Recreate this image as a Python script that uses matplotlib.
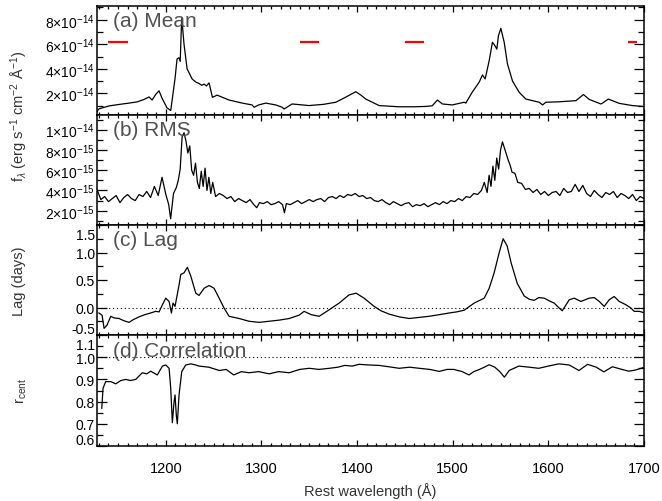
import matplotlib
matplotlib.use("Agg")
import math
import matplotlib.pyplot as plt
import matplotlib.transforms as mtransforms
from matplotlib.ticker import MultipleLocator, FixedLocator, FuncFormatter

plt.rcParams['font.family'] = ['Liberation Sans', 'DejaVu Sans']
plt.rcParams['mathtext.fontset'] = 'custom'
plt.rcParams['mathtext.rm'] = 'Liberation Sans'
plt.rcParams['mathtext.it'] = 'Liberation Sans:italic'
plt.rcParams['mathtext.bf'] = 'Liberation Sans:bold'

# ---------------- data ----------------
mean_wave = [1128, 1130, 1140.6, 1150, 1161.5, 1170, 1177.2, 1182.4, 1185.6, 1189.8, 1192.9, 1196,
             1201.3, 1205.1, 1209.6, 1211.7, 1213.8, 1215, 1216.6, 1219, 1222.2, 1227.4, 1231.6,
             1234.7, 1237.5, 1240, 1242.5, 1245.2, 1248.7, 1253.6, 1266.1, 1280, 1290.2, 1292.3,
             1297, 1304.5, 1315, 1321.6, 1323.7, 1332, 1349.8, 1365, 1377.7, 1384.3, 1392, 1398.6,
             1404, 1409.1, 1423, 1444, 1460, 1471.9, 1478.5, 1484, 1489.2, 1499.4, 1512, 1513.7,
             1520.3, 1527.6, 1531.1, 1533.9, 1538.1, 1541.5, 1544, 1546.1, 1547.8, 1550.3, 1553.8,
             1557.2, 1562.5, 1569.5, 1576.5, 1590.4, 1593.9, 1597.4, 1610, 1628.8, 1636.7, 1642.7,
             1654.9, 1656.6, 1662.6, 1674.1, 1687.7, 1700]
mean_flux = [0.5, 0.73, 0.97, 1.08, 1.2, 1.3, 1.5, 1.7, 1.45, 1.95, 2.2, 1.6,
             0.8, 0.6, 3.2, 4.8, 4.9, 4.6, 8.2, 6.0, 4.0, 3.17, 2.9,
             2.8, 2.65, 2.75, 2.6, 2.85, 1.67, 1.85, 1.45, 1.2, 1.05, 0.86,
             1.05, 1.2, 1.05, 0.86, 0.72, 1.13, 1.0, 1.1, 1.27, 1.53, 1.85, 2.13,
             1.85, 1.53, 1.0, 0.9, 0.9, 0.93, 0.98, 1.45, 1.13, 1.05, 1.27, 1.2,
             2.08, 2.9, 3.5, 3.17, 4.66, 6.16, 5.9, 5.6, 6.7, 7.3, 6.16,
             4.4, 3.0, 2.08, 1.53, 1.27, 1.05, 1.27, 1.3, 1.4, 1.9, 1.5,
             1.13, 1.2, 1.53, 1.18, 1.0, 0.92]

window_lo = [1140, 1340, 1450, 1683]
window_hi = [1160, 1360, 1470, 1693]
window_level = 6.2

rms_wave = [1128, 1132, 1136, 1140, 1144, 1148, 1152, 1156, 1160, 1164, 1168, 1172, 1176, 1180,
            1184, 1188, 1192, 1196, 1200, 1203, 1205, 1208, 1211, 1213, 1215, 1217, 1219, 1221,
            1223, 1225, 1227, 1229, 1231, 1233, 1235, 1237, 1239, 1241, 1243, 1245, 1247, 1249,
            1252, 1256, 1260, 1264, 1268, 1272, 1276, 1280, 1284, 1288, 1292, 1295, 1298, 1302,
            1306, 1310, 1314, 1318, 1322, 1324, 1326, 1330, 1334, 1338, 1342, 1346, 1350, 1354,
            1358, 1362, 1366, 1370, 1374, 1378, 1382, 1386, 1390, 1394, 1398, 1402, 1406, 1410,
            1414, 1418, 1422, 1426, 1430, 1434, 1438, 1442, 1446, 1450, 1454, 1458, 1462, 1466,
            1470, 1474, 1478, 1482, 1486, 1490, 1494, 1498, 1502, 1506, 1510, 1514, 1518, 1522,
            1526, 1530, 1533, 1536, 1538, 1540, 1542, 1544, 1546, 1548, 1550, 1552, 1554, 1556,
            1558, 1560, 1562, 1565, 1568, 1572, 1576, 1580, 1584, 1588, 1592, 1596, 1600, 1604,
            1608, 1612, 1616, 1620, 1624, 1628, 1632, 1636, 1640, 1644, 1648, 1652, 1656, 1660,
            1664, 1668, 1672, 1676, 1680, 1684, 1688, 1692, 1696, 1700]
rms_flux = [4.1, 3.1, 3.4, 2.9, 3.2, 3.5, 2.8, 3.3, 3.6, 3.2, 3.0, 3.6, 3.4, 3.9,
            3.3, 4.4, 3.5, 5.3, 3.6, 2.6, 1.2, 3.7, 4.3, 5.0, 6.1, 9.3, 9.7, 8.9,
            7.7, 8.4, 6.0, 5.5, 6.7, 4.8, 4.2, 5.9, 4.4, 6.2, 4.0, 5.3, 3.7, 4.8,
            3.4, 3.7, 3.5, 3.2, 3.4, 2.9, 3.2, 3.0, 2.8, 3.1, 2.6, 2.3, 2.8, 2.7,
            2.9, 2.6, 2.7, 2.9, 2.6, 1.8, 2.7, 2.6, 2.8, 3.0, 2.7, 2.9, 3.1, 2.9,
            3.1, 3.2, 2.9, 3.3, 3.4, 3.2, 3.5, 3.3, 3.6, 3.5, 3.7, 3.4, 3.5, 3.2,
            3.3, 3.0, 2.9, 3.1, 2.8, 2.6, 2.9, 2.7, 2.5, 2.7, 2.8, 2.4, 2.6, 2.5,
            2.7, 2.4, 2.6, 2.8, 2.6, 2.9, 2.7, 3.0, 2.9, 3.2, 3.0, 3.4, 3.3, 3.7,
            3.6, 4.0, 4.8, 3.8, 5.5, 4.4, 6.4, 5.0, 7.2, 6.1, 8.0, 8.8, 8.2, 7.6,
            7.0, 6.5, 5.8, 5.7, 4.8, 4.7, 4.1, 4.2, 3.8, 4.1, 3.6, 3.9, 3.5, 3.8,
            3.9, 3.5, 4.2, 3.8, 3.9, 4.6, 3.9, 4.5, 3.7, 3.4, 4.0, 3.6, 3.3, 3.8,
            3.6, 3.9, 3.3, 3.7, 3.5, 3.2, 3.6, 3.0, 3.4, 3.2]

lag_wave = [1130, 1133.3, 1135.4, 1138.5, 1142.4, 1146, 1151.1, 1156, 1161.5, 1166, 1172, 1178,
            1184, 1189.4, 1192.9, 1196.4, 1199.9, 1203.4, 1205.8, 1207.5, 1209.6, 1213.8, 1215.6,
            1219, 1222.5, 1226.1, 1231.3, 1234.7, 1240, 1245.2, 1250.4, 1255.7, 1260.9, 1266.1,
            1276.6, 1287, 1297.5, 1308, 1318.4, 1329, 1339.3, 1344.6, 1352, 1360.3, 1370, 1381.2,
            1391.6, 1399, 1407.3, 1417.8, 1425, 1433.5, 1444, 1454.4, 1465, 1475.3, 1486, 1496.2,
            1504, 1511.9, 1522.4, 1532.9, 1538.1, 1543.3, 1548.6, 1552.7, 1556.9, 1561.1,
            1567.4, 1574.7, 1580, 1585.2, 1590, 1595.6, 1601, 1606.1, 1611.3, 1614.5, 1621.8,
            1627, 1634, 1642.7, 1648, 1653.2, 1658.4, 1663.6, 1668.8, 1674.1, 1681.1,
            1686.3, 1689.8, 1695, 1699.2]
lag_days = [-0.1, -0.14, -0.38, -0.32, -0.16, -0.19, -0.2, -0.24, -0.27, -0.22, -0.17, -0.13,
            -0.1, -0.07, -0.08, 0.05, 0.17, 0.11, -0.1, 0.08, 0.02, 0.41, 0.6,
            0.63, 0.73, 0.57, 0.26, 0.22, 0.35, 0.4, 0.35, 0.17, -0.01, -0.16,
            -0.2, -0.25, -0.27, -0.25, -0.23, -0.2, -0.14, -0.07, -0.13, -0.16, -0.05, 0.08,
            0.23, 0.26, 0.17, 0.02, -0.06, -0.12, -0.17, -0.2, -0.18, -0.16, -0.13, -0.1,
            -0.08, -0.05, 0.08, 0.17, 0.35, 0.63, 1.0, 1.25, 1.12, 0.81,
            0.44, 0.21, 0.15, 0.13, 0.18, 0.17, 0.12, 0.08, -0.01, -0.06, 0.14,
            0.17, 0.11, 0.17, 0.18, 0.11, 0.02, 0.14, 0.2, 0.11, 0.05,
            -0.01, -0.07, -0.07, -0.09]

corr_wave = [1133, 1134.3, 1137.1, 1142.4, 1147.6, 1153, 1158.1, 1163, 1168.5, 1175.4, 1180,
             1184.2, 1191.1, 1196.4, 1199.9, 1203.4, 1205.1, 1206.8, 1208.6, 1209.6, 1211, 1212,
             1213.8, 1216.6, 1220.8, 1226.1, 1231.3, 1234.7, 1245, 1256, 1263, 1271, 1279, 1287,
             1297, 1308, 1318, 1329, 1340, 1350, 1360, 1371, 1380, 1387, 1395, 1402, 1412, 1423,
             1433, 1444, 1455, 1465, 1476, 1486, 1494, 1501, 1510, 1517, 1522, 1528, 1533, 1538,
             1544, 1549, 1554, 1559, 1564, 1569, 1580, 1590, 1600, 1611, 1621.8, 1632, 1641,
             1650, 1658, 1667, 1676, 1684, 1691, 1699]
corr_r = [0.77, 0.86, 0.89, 0.89, 0.88, 0.895, 0.9, 0.895, 0.9, 0.93, 0.925,
          0.937, 0.92, 0.96, 0.965, 0.95, 0.86, 0.705, 0.8, 0.83, 0.735, 0.70,
          0.83, 0.935, 0.965, 0.97, 0.965, 0.96, 0.955, 0.94, 0.945, 0.92, 0.935, 0.93,
          0.935, 0.925, 0.935, 0.93, 0.945, 0.95, 0.945, 0.95, 0.955, 0.963, 0.96, 0.968, 0.965, 0.963,
          0.957, 0.95, 0.955, 0.95, 0.945, 0.936, 0.945, 0.945, 0.935, 0.92, 0.935, 0.945, 0.955, 0.966,
          0.955, 0.936, 0.91, 0.94, 0.95, 0.96, 0.955, 0.95, 0.96, 0.97, 0.965, 0.94, 0.968,
          0.955, 0.934, 0.957, 0.946, 0.937, 0.942, 0.953]

panel_titles = ['(a) Mean', '(b) RMS', '(c) Lag', '(d) Correlation']
x_ticks = [1200, 1300, 1400, 1500, 1600, 1700]
XMIN, XMAX = 1128, 1700

# ---------------- figure ----------------
fig = plt.figure(figsize=(6.62, 5.02), dpi=100)
W, H = 662.0, 502.0
left, right = 97 / W, 644 / W
edges = [7, 116, 226, 336, 447]
axes = []
for i in range(4):
    bottom = 1 - edges[i + 1] / H
    height = (edges[i + 1] - edges[i]) / H
    axes.append(fig.add_axes([left, bottom, right - left, height]))

LW = 0.9
for ax in axes:
    ax.set_xlim(XMIN, XMAX)
    ax.xaxis.set_major_locator(FixedLocator(x_ticks))
    ax.xaxis.set_minor_locator(MultipleLocator(10))
    ax.tick_params(axis='both', which='both', direction='in', top=True, right=True,
                   width=0.9, colors='black')
    ax.tick_params(axis='x', which='major', length=4.5)
    ax.tick_params(axis='x', which='minor', length=2.2)
    ax.tick_params(axis='y', which='major', length=7.5, labelsize=10, pad=1.5)
    ax.tick_params(axis='y', which='minor', length=4)
    for s in ax.spines.values():
        s.set_linewidth(1.1)
    if ax is not axes[-1]:
        ax.tick_params(axis='x', labelbottom=False)

def sci(v, pos):
    if v == 0:
        return '0'
    e = int(math.floor(math.log10(abs(v)) + 1e-9))
    m = v / 10 ** e
    return r'%d$\times$10$^{%d}$' % (round(m), e)

# (a) Mean
ax = axes[0]
ax.plot(mean_wave, [v * 1e-14 for v in mean_flux], color='black', lw=LW)
for lo, hi in zip(window_lo, window_hi):
    ax.plot([lo, hi], [window_level * 1e-14] * 2, color='red', lw=1.6, solid_capstyle='butt')
ax.set_ylim(0.23e-14, 9.12e-14)
ax.yaxis.set_major_locator(FixedLocator([2e-14, 4e-14, 6e-14, 8e-14]))
ax.yaxis.set_minor_locator(FixedLocator([1e-14, 3e-14, 5e-14, 7e-14, 9e-14]))
ax.yaxis.set_major_formatter(FuncFormatter(sci))

# (b) RMS
ax = axes[1]
ax.plot(rms_wave, [v * 1e-15 for v in rms_flux], color='black', lw=LW)
ax.set_ylim(0.59e-15, 11.45e-15)
ax.yaxis.set_major_locator(FixedLocator([2e-15, 4e-15, 6e-15, 8e-15, 10e-15]))
ax.yaxis.set_minor_locator(FixedLocator([1e-15, 3e-15, 5e-15, 7e-15, 9e-15, 11e-15]))
ax.yaxis.set_major_formatter(FuncFormatter(sci))

# (c) Lag
ax = axes[2]
ax.plot(lag_wave, lag_days, color='black', lw=LW)
ax.axhline(0.0, color='black', lw=0.8, ls=(0, (1, 2.5)))
ax.set_ylim(-0.5, 1.5)
ax.yaxis.set_major_locator(FixedLocator([-0.5, 0.0, 0.5, 1.0, 1.5]))
ax.yaxis.set_minor_locator(MultipleLocator(0.25))
ax.yaxis.set_major_formatter(FuncFormatter(lambda v, p: '%.1f' % v))

# (d) Correlation
ax = axes[3]
ax.plot(corr_wave, corr_r, color='black', lw=LW)
ax.axhline(1.0, color='black', lw=0.8, ls=(0, (1, 2.5)))
ax.set_ylim(0.6, 1.1)
ax.yaxis.set_major_locator(FixedLocator([0.6, 0.7, 0.8, 0.9, 1.0, 1.1]))
ax.yaxis.set_minor_locator(MultipleLocator(0.05))
ax.yaxis.set_major_formatter(FuncFormatter(lambda v, p: '%.1f' % v))
ax.tick_params(axis='x', labelsize=10.5, pad=11)
ax.set_xlabel('Rest wavelength (Å)', fontsize=10.5, color='#333333', labelpad=5)

# shift end labels of panels (c) and (d) inward, as in the reference
fig.canvas.draw()
down = mtransforms.ScaledTranslation(0, -8.5 / 100.0, fig.dpi_scale_trans)
up = mtransforms.ScaledTranslation(0, 7 / 100.0, fig.dpi_scale_trans)
for ax in axes[2:]:
    labs = ax.get_yticklabels()
    labs[0].set_transform(labs[0].get_transform() + up)
    labs[-1].set_transform(labs[-1].get_transform() + down)

for ax, t in zip(axes, panel_titles):
    ax.text(0.029, 0.95, t, transform=ax.transAxes, fontsize=15, color='#505050',
            ha='left', va='top')

fig.text(19 / W, 1 - 116 / H, r'f$_\lambda$ (erg s$^{-1}$ cm$^{-2}$ Å$^{-1}$)',
         rotation=90, ha='center', va='center', fontsize=10.5, color='#333333')
fig.text(19 / W, 1 - 281 / H, 'Lag (days)', rotation=90, ha='center', va='center',
         fontsize=10.5, color='#333333')
fig.text(21 / W, 1 - 391 / H, r'r$_{\rm cent}$', rotation=90, ha='center', va='center',
         fontsize=10.5, color='#333333')

fig.savefig('out.png', dpi=100)
